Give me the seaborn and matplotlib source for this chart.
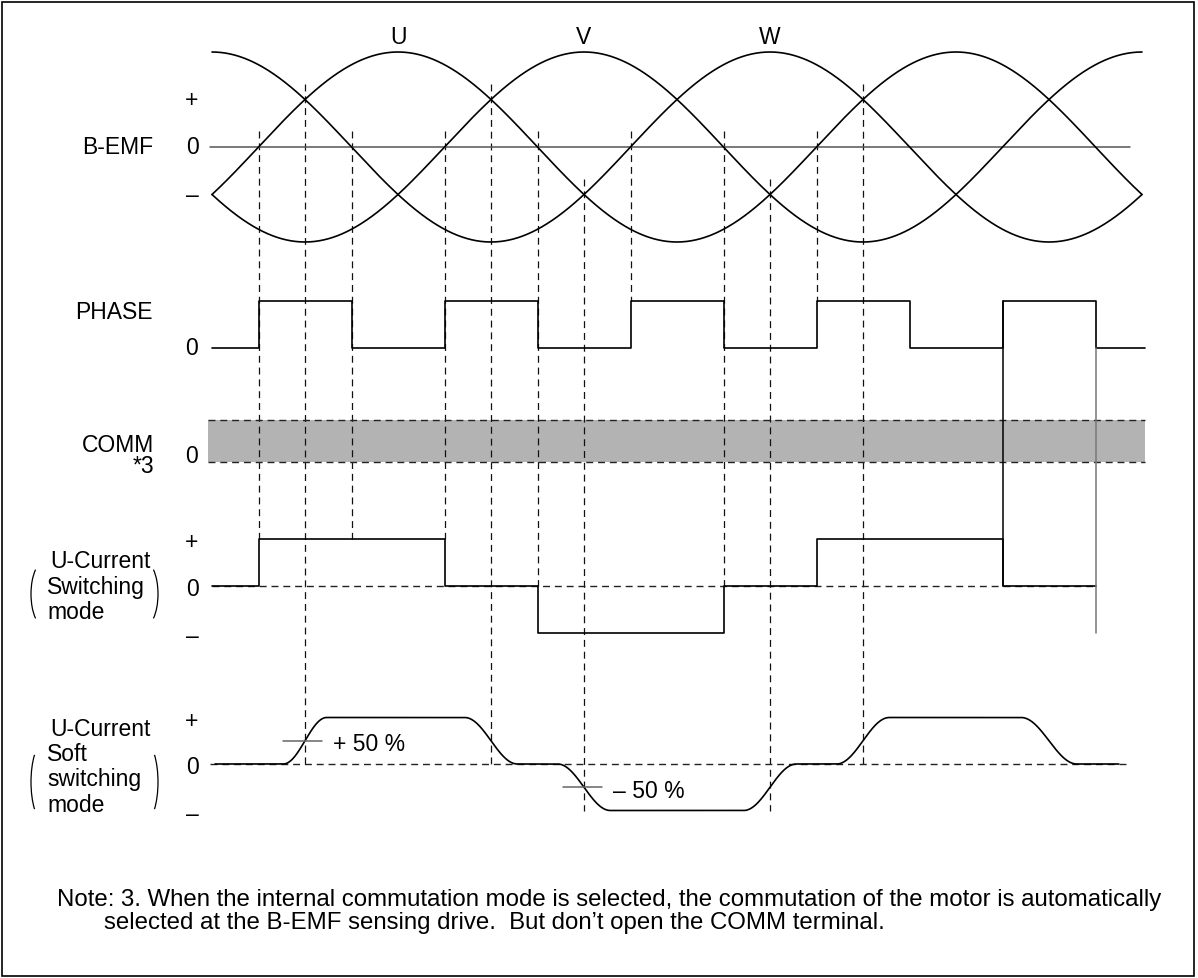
import numpy as np
import matplotlib.pyplot as plt
import matplotlib.patches as mpatches
import seaborn as sns

# ---- data (electrical degrees) ----
bemf_names = ["U", "V", "W"]
bemf_peak_deg = [120, 240, 0]          # phase of each B-EMF peak
bemf_label_deg = [120, 240, 360]
bemf_end_deg = 600

phase_t = [0, 30, 90, 150, 210, 270, 330, 390, 450, 510, 570, 602]
phase_v = [0, 1, 0, 1, 0, 1, 0, 1, 0, 1, 0, 0]

sw_t = [0, 30, 150, 210, 330, 390, 510, 570]
sw_v = [0, 1, 0, -1, 0, 1, 0, 0]

soft_edges = [60, 180, 240, 360, 420, 540]
soft_halfwidth = [14, 17, 17, 17, 17, 18]
soft_levels = [0, 1, 0, -1, 0, 1, 0]
soft_span = [2, 585]

guide_deg = [30, 60, 90, 150, 180, 210, 240, 270, 330, 360, 390, 420]
guide_bemf = [0, 0.5, 0, 0, 0.5, 0, -0.5, 0, 0, -0.5, 0, 0.5]
guide_end = ["sw+", "so0", "sw+", "sw+", "so0", "sw0", "so-", "ph+", "sw0", "so-", "ph+", "so0"]

note_lines = ["Note: 3. When the internal commutation mode is selected, the commutation of the motor is automatically",
              "selected at the B-EMF sensing drive.  But don\u2019t open the COMM terminal."]

# ---- layout (pixels) ----
W, H = 1198, 979
PX0, PXD = 212, 1.55
BEMF_Y, BEMF_A = 148, 95
PH_LO, PH_HI = 349, 302
COMM_TOP, COMM_BOT = 421, 463
SW_Y, SW_A = 587, 47
SO_Y, SO_A = 765, 46.5
FS = 16.5


def xd(px):
    return (px - PX0) / PXD


end_y = {"ph+": PH_HI, "sw+": SW_Y - SW_A, "sw0": SW_Y, "sw-": SW_Y + SW_A,
         "so0": SO_Y, "so-": SO_Y + SO_A}

sns.set_theme(style="white")
plt.rcParams['font.family'] = ['Liberation Sans', 'DejaVu Sans']
plt.rcParams['text.color'] = 'black'
plt.rcParams['lines.scale_dashes'] = False

fig = plt.figure(figsize=(W / 100, H / 100), dpi=100)
ax = fig.add_axes([0, 0, 1, 1])
ax.set_xlim(xd(0), xd(W))
ax.set_ylim(H, 0)
ax.set_axis_off()

dash = (0, (5, 3.5))
wave = dict(color="black", lw=1.2, estimator=None, sort=False, ax=ax, legend=False)

# dashed guide lines
for d, lv, e in zip(guide_deg, guide_bemf, guide_end):
    ax.plot([d, d], [BEMF_Y - BEMF_A * lv - 16, end_y[e]], color="#111111", lw=0.9, linestyle=dash, zorder=1)

# B-EMF
ax.plot([xd(210), xd(1130)], [BEMF_Y, BEMF_Y], color="#555555", lw=1.1)
t = np.linspace(0, bemf_end_deg, 1201)
for name, pk, ld in zip(bemf_names, bemf_peak_deg, bemf_label_deg):
    v = np.cos(np.radians(t - pk))
    sns.lineplot(x=t, y=BEMF_Y - BEMF_A * v, **wave)
    ax.text(ld, 37, name, fontsize=FS, ha="center", va="center")

# PHASE
sns.lineplot(x=phase_t, y=[PH_LO - (PH_LO - PH_HI) * v for v in phase_v], drawstyle="steps-post", **wave)

# COMM band
ax.fill_between([xd(208), xd(1145)], COMM_TOP, COMM_BOT, color="#b3b3b3", lw=0, zorder=0)
for yy in (COMM_TOP, COMM_BOT):
    ax.plot([xd(208), xd(1145)], [yy, yy], color="#222222", lw=1.0, linestyle=dash)

# U-current switching mode
ax.plot([sw_t[0], sw_t[-1]], [SW_Y, SW_Y], color="#222222", lw=1.0, linestyle=dash)
sns.lineplot(x=sw_t, y=[SW_Y - SW_A * v for v in sw_v], drawstyle="steps-post", **wave)
ax.plot([510, 510], [PH_HI, SW_Y], color="black", lw=1.1)
ax.plot([570, 570], [PH_LO, SW_Y + SW_A], color="#777777", lw=1.1)

# U-current soft switching mode
ts = np.linspace(soft_span[0], soft_span[1], 2000)
vs = np.full_like(ts, soft_levels[0], dtype=float)
for i, (c, hw) in enumerate(zip(soft_edges, soft_halfwidth)):
    s = np.clip((ts - c) / hw, -1, 1)
    vs += (soft_levels[i + 1] - soft_levels[i]) * (0.5 - 0.5 * np.cos(np.pi * (s + 1) / 2))
ax.plot([xd(210), xd(1130)], [SO_Y, SO_Y], color="#222222", lw=1.0, linestyle=dash)
sns.lineplot(x=ts, y=SO_Y - SO_A * vs, **wave)
ax.plot([xd(283), xd(322)], [SO_Y - SO_A / 2] * 2, color="#666666", lw=1.1)
ax.plot([xd(563), xd(602)], [SO_Y + SO_A / 2] * 2, color="#666666", lw=1.1)
ax.text(xd(333), SO_Y - SO_A / 2 + 3, "+ 50 %", fontsize=FS, va="center")
ax.text(xd(613), SO_Y + SO_A / 2 + 3, "\u2013 50 %", fontsize=FS, va="center")

# row labels
lab = dict(fontsize=FS, va="center")
ax.text(xd(153), BEMF_Y, "B-EMF", ha="right", **lab)
for yy, s in ((BEMF_Y - BEMF_A / 2, "+"), (BEMF_Y, "0"), (BEMF_Y + BEMF_A / 2, "\u2013")):
    ax.text(xd(192), yy, s, ha="center", **lab)
ax.text(xd(153), 313, "PHASE", ha="right", **lab)
ax.text(xd(191), PH_LO, "0", ha="center", **lab)
ax.text(xd(154), 456, "COMM\n*3", ha="right", multialignment="right", linespacing=0.85, **lab)
ax.text(xd(191), 457, "0", ha="center", **lab)

for y0, amp in ((SW_Y, SW_A), (SO_Y, SO_A)):
    for yy, s in ((y0 - amp, "+"), (y0, "0"), (y0 + amp, "\u2013")):
        ax.text(xd(192), yy + 3, s, ha="center", **lab)

ax.text(xd(151), 562, "U-Current", ha="right", **lab)
ax.text(xd(47), 588, "Switching", ha="left", **lab)
ax.text(xd(47), 613, "mode", ha="left", **lab)
ax.text(xd(151), 730, "U-Current", ha="right", **lab)
ax.text(xd(47), 755, "Soft", ha="left", **lab)
ax.text(xd(47), 780, "switching", ha="left", **lab)
ax.text(xd(47), 806, "mode", ha="left", **lab)

# brackets
for yc, hh in ((595, 66), (783, 82)):
    ax.add_patch(mpatches.Arc((xd(45), yc), 28 / PXD, hh, theta1=104, theta2=256, color="black", lw=0.9))
    ax.add_patch(mpatches.Arc((xd(144), yc), 28 / PXD, hh, theta1=-76, theta2=76, color="black", lw=0.9))

# note
ax.text(xd(57), 900, note_lines[0], fontsize=17.3, va="center", ha="left")
ax.text(xd(104), 923, note_lines[1], fontsize=17.3, va="center", ha="left")

# frame
fig.patches.append(mpatches.Rectangle((2 / W, 2 / H), 1192 / W, 974 / H, transform=fig.transFigure,
                                      fill=False, edgecolor="black", lw=1.2))

fig.savefig("out.png", dpi=100)
